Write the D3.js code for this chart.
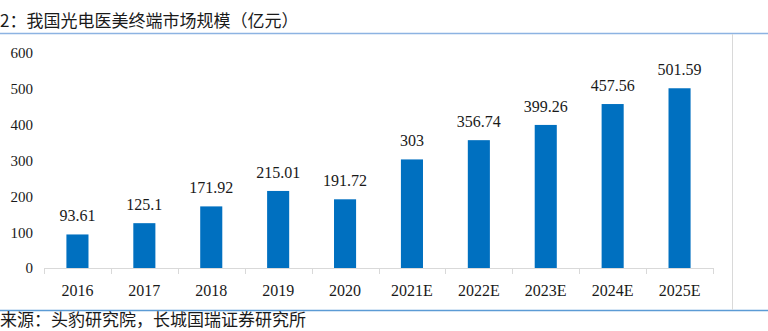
<!DOCTYPE html>
<html>
<head>
<meta charset="utf-8">
<script src="https://cdn.jsdelivr.net/npm/d3@7/dist/d3.min.js"></script>
<style>
  html, body { margin: 0; padding: 0; background: #ffffff; }
  svg { display: block; }
  .num { font-family: "Liberation Serif", "DejaVu Serif", serif; fill: #1a1a1a; }
  .cjk { font-family: "Noto Sans CJK SC", "Noto Sans", sans-serif; fill: #1a1a1a; }
</style>
</head>
<body>
<svg id="chart" width="768" height="331"></svg>
<script>
// Market size of photoelectric aesthetic-medicine terminals in China (100M CNY)
const years = ["2016", "2017", "2018", "2019", "2020", "2021E", "2022E", "2023E", "2024E", "2025E"];
const values = [93.61, 125.1, 171.92, 215.01, 191.72, 303, 356.74, 399.26, 457.56, 501.59];
const valueLabels = ["93.61", "125.1", "171.92", "215.01", "191.72", "303", "356.74", "399.26", "457.56", "501.59"];
const yTicks = [0, 100, 200, 300, 400, 500, 600];
const titleText = "2：我国光电医美终端市场规模（亿元）";
const sourceText = "来源：头豹研究院，长城国瑞证券研究所";

const svg = d3.select("#chart");

const plot = { left: 44, right: 713, top: 53, bottom: 268 };

const x = d3.scaleBand()
  .domain(years)
  .range([plot.left, plot.right])
  .paddingInner(0.67)
  .paddingOuter(0.335);

const y = d3.scaleLinear()
  .domain([0, 600])
  .range([plot.bottom, plot.top]);

// Title
svg.append("text")
  .attr("class", "cjk")
  .attr("x", 0)
  .attr("y", 27)
  .style("font-size", "17px")
  .text(titleText);

// Frame lines
svg.append("line")
  .attr("x1", 0).attr("x2", 768)
  .attr("y1", 33.5).attr("y2", 33.5)
  .attr("stroke", "#8db3e2").attr("stroke-width", 1.5);
svg.append("line")
  .attr("x1", 0).attr("x2", 768)
  .attr("y1", 310.5).attr("y2", 310.5)
  .attr("stroke", "#5b9bd5").attr("stroke-width", 1.5);
svg.append("line")
  .attr("x1", 732.5).attr("x2", 732.5)
  .attr("y1", 34).attr("y2", 310)
  .attr("stroke", "#d9d9d9").attr("stroke-width", 1);

// Bars
svg.append("g")
  .selectAll("rect")
  .data(years)
  .join("rect")
  .attr("x", d => x(d))
  .attr("width", x.bandwidth())
  .attr("y", (d, i) => y(values[i]))
  .attr("height", (d, i) => y(0) - y(values[i]))
  .attr("fill", "#0070c0");

// Value labels
svg.append("g")
  .selectAll("text")
  .data(years)
  .join("text")
  .attr("class", "num")
  .attr("x", d => x(d) + x.bandwidth() / 2)
  .attr("y", (d, i) => y(values[i]) - 13)
  .attr("text-anchor", "middle")
  .style("font-size", "16px")
  .text((d, i) => valueLabels[i]);

// X axis with category boundary ticks
const xAxis = svg.append("g")
  .attr("transform", `translate(0,${plot.bottom})`);
xAxis.append("line")
  .attr("x1", plot.left).attr("x2", plot.right)
  .attr("y1", 0.5).attr("y2", 0.5)
  .attr("stroke", "#d9d9d9");
const step = x.step();
const boundaries = d3.range(years.length + 1).map(i => plot.left + i * step);
xAxis.selectAll("line.tick")
  .data(boundaries)
  .join("line")
  .attr("class", "tick")
  .attr("x1", d => Math.round(d) + 0.5).attr("x2", d => Math.round(d) + 0.5)
  .attr("y1", 0).attr("y2", 6)
  .attr("stroke", "#d9d9d9");
xAxis.selectAll("text")
  .data(years)
  .join("text")
  .attr("class", "num")
  .attr("x", d => x(d) + x.bandwidth() / 2)
  .attr("y", 28)
  .attr("text-anchor", "middle")
  .style("font-size", "16px")
  .text(d => d);

// Y axis labels (no axis line)
const yAxis = svg.append("g")
  .attr("transform", `translate(${plot.left - 11},0)`)
  .call(d3.axisLeft(y).tickValues(yTicks).tickSize(0).tickPadding(0).tickFormat(d3.format("d")));
yAxis.attr("font-family", null).attr("font-size", null);
yAxis.select(".domain").remove();
yAxis.selectAll("text")
  .attr("class", "num")
  .style("font-size", "15px")
  .attr("dy", "0.33em");

// Source note
svg.append("text")
  .attr("class", "cjk")
  .attr("x", 0)
  .attr("y", 326)
  .style("font-size", "17px")
  .text(sourceText);
</script>
</body>
</html>
